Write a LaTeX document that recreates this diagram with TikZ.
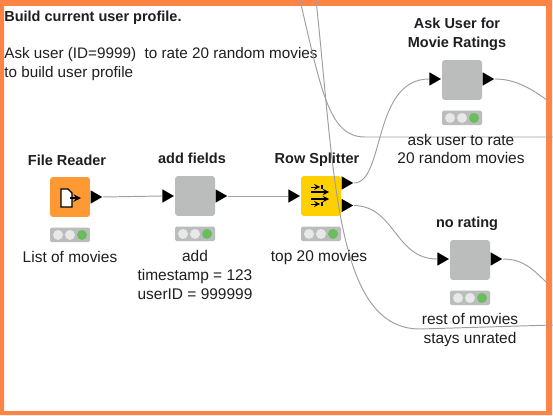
\documentclass[tikz,border=0pt]{standalone}
\usepackage{fontspec}
\setmainfont{Liberation Sans}
\usepackage{xcolor}
\usetikzlibrary{shapes.geometric}
\definecolor{frameorange}{RGB}{255,131,68}
\definecolor{readerorange}{RGB}{255,153,51}
\definecolor{splitteryellow}{RGB}{255,208,0}
\definecolor{metagray}{RGB}{187,189,188}
\definecolor{lightoff}{RGB}{232,232,232}
\definecolor{lightgreen}{RGB}{104,190,92}
\definecolor{wiregray}{RGB}{160,160,160}
\definecolor{inktext}{RGB}{30,30,35}
\tikzset{
  nodebox/.style={minimum size=0.8cm, inner sep=0, rounded corners=0.06cm, fill=metagray},
  statusbar/.style={minimum width=0.8cm, minimum height=0.29cm, inner sep=0, rounded corners=0.03cm, fill=metagray},
  lamp/.style={circle, minimum size=0.2cm, inner sep=0, fill=lightoff},
  portin/.style={isosceles triangle, isosceles triangle apex angle=60, minimum height=0.23cm, minimum width=0.23cm, inner sep=0, fill=black, anchor=east},
  portout/.style={isosceles triangle, isosceles triangle apex angle=60, minimum height=0.23cm, minimum width=0.23cm, inner sep=0, fill=black, anchor=west},
  wire/.style={draw=wiregray, line width=0.55pt},
  title/.style={font=\fontsize{8.25}{10.6}\selectfont\bfseries, text=inktext, align=center, inner sep=0},
  caption/.style={font=\fontsize{8.8}{10.6}\selectfont, text=inktext, align=center, inner sep=0}
}
\begin{document}
\begin{tikzpicture}[x=0.02cm, y=-0.02cm]
\useasboundingbox (0,0) rectangle (553,415);
\fill[white] (0,0) rectangle (553,415);

% Frame
\fill[frameorange, even odd rule] (0,0) rectangle (552,415) (4,6) rectangle (546,411);

% Note
\node[title, anchor=north west] (note) at (4,11) {Build current user profile.};
\node[caption, anchor=north west, align=left, font=\fontsize{8.68}{10.6}\selectfont] (notetext) at (4,47) {Ask user (ID=9999)\ \ to rate 20 random movies\\to build user profile};

% Nodes
\node[nodebox, fill=readerorange] (reader) at (70,197) {};
\node[nodebox] (fields) at (195,196) {};
\node[nodebox, fill=splitteryellow] (splitter) at (321,196) {};
\node[nodebox] (ask) at (462,80) {};
\node[nodebox] (norating) at (470,260) {};

% Status lights
\foreach \n in {reader,fields,splitter,ask,norating}{
  \node[statusbar, below=0.2cm] (\n bar) at (\n.south) {};
  \node[lamp] (\n a) at ([xshift=-0.24cm]\n bar.center) {};
  \node[lamp] (\n b) at (\n bar.center) {};
  \node[lamp, fill=lightgreen] (\n c) at ([xshift=0.24cm]\n bar.center) {};
}

% Ports
\node[portout] (readerout) at (reader.east) {};
\node[portin] (fieldsin) at (fields.west) {};
\node[portout] (fieldsout) at (fields.east) {};
\node[portin] (splitterin) at (splitter.west) {};
\node[portout] (splitterhi) at ([yshift=0.26cm]splitter.east) {};
\node[portout] (splitterlo) at ([yshift=-0.19cm]splitter.east) {};
\node[portin] (askin) at ([yshift=0.02cm]ask.west) {};
\node[portout] (askout) at ([yshift=0.02cm]ask.east) {};
\node[portin] (noratingin) at ([yshift=0.02cm]norating.west) {};
\node[portout] (noratingout) at ([yshift=0.02cm]norating.east) {};

% Free wire ends
\coordinate (askend) at (547,100);
\coordinate (noratingend) at (547,283);
\coordinate (topa) at (300,0);
\coordinate (topb) at (316,0);
\coordinate (enda) at (553,137);
\coordinate (endb) at (553,325);

% Wires
\draw[wire] (readerout.apex) -- (fieldsin.west);
\draw[wire] (fieldsout.apex) -- (splitterin.west);
\draw[wire] (splitterhi.apex) .. controls (385,183) and (372,79) .. (askin.west);
\draw[wire] (splitterlo.apex) .. controls (395,206) and (395,259) .. (noratingin.west);
\draw[wire] (askout.apex) .. controls (515,79) and (530,88) .. (askend);
\draw[wire] (noratingout.apex) .. controls (522,259) and (532,268) .. (noratingend);
\draw[wire] (topa) .. controls (322,95) and (330,137) .. (365,137) -- (enda);
\draw[wire] (topb) .. controls (335,175) and (335,329) .. (420,329) -- (endb);

% Titles
\node[title] (readertitle) at (67,160) {File Reader};
\node[title] (fieldstitle) at (192,158) {add fields};
\node[title] (splittertitle) at (317,160) {Row Splitter};
\node[title] (asktitle) at (457,34) {Ask User for\\Movie Ratings};
\node[title] (noratingtitle) at (467,224) {no rating};

% Captions
\node[caption] (readercap) at (70,257) {List of movies};
\node[caption] (fieldscap) at (195,275) {add\\timestamp = 123\\userID = 999999};
\node[caption] (splittercap) at (319,257) {top 20 movies};
\node[caption] (askcap) at (461,149) {ask user to rate\\20 random movies};
\node[caption] (noratingcap) at (470,330) {rest of movies\\stays unrated};

% Icons
\draw[black, fill=white, line width=0.7pt] (61,189) -- (68,189) -- (72,193) -- (72,207) -- (61,207) -- cycle;
\draw[black, line width=0.9pt, -stealth] (70,198) -- (81,198);
\draw[black, line width=0.6pt, -stealth] (311,192) -- (329,192);
\draw[black, line width=0.6pt, -stealth] (311,199) -- (329,199);
\draw[black, line width=0.5pt, -stealth] (311,187) -- (320,187);
\draw[black, line width=0.5pt, -stealth] (311,204) -- (320,204);
\draw[black, line width=0.7pt] (322,185) -- (322,189);
\draw[black, line width=0.7pt] (322,202) -- (322,206);
\end{tikzpicture}
\end{document}
